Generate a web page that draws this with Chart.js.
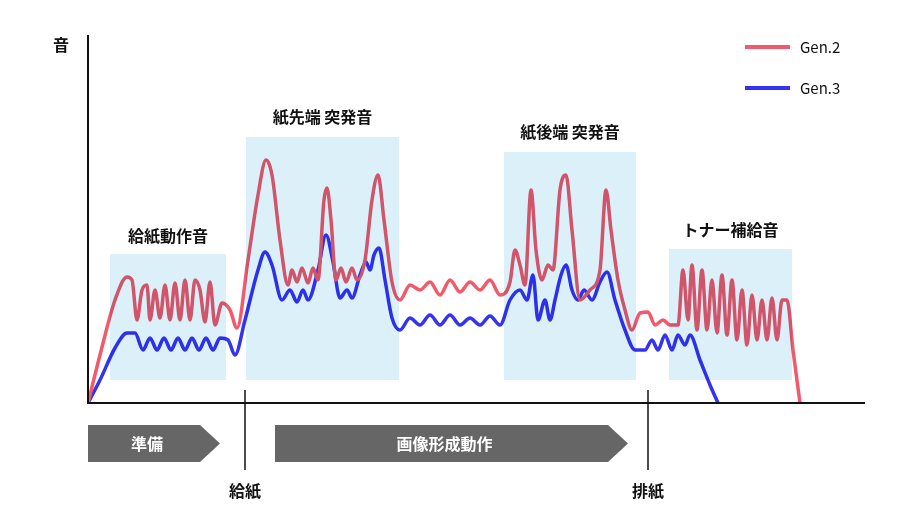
<!DOCTYPE html>
<html><head><meta charset="utf-8">
<script src="https://cdn.jsdelivr.net/npm/chart.js@4"></script>
<style>html,body{margin:0;padding:0;background:#fff}#w{width:920px;height:520px}</style>
</head><body><div id="w"><canvas id="c"></canvas></div>
<script>
const seriesNames=['Gen.2','Gen.3'];
const gen2X=[0,12,27,39,44,49,54,59,62,67,72,77,82,87,92,97,102,107,112,117,122,127,134,142,149,160,170,178,184,192,200,204,209,214,220,225,230,236,239,243,248,253,258,264,269,277,284,290,296,304,312,322,332,342,352,362,372,382,392,402,412,422,427,432,437,443,448,454,460,465,472,478,484,492,502,512,518,523,530,537,544,552,560,567,575,582,590,595,600,604,609,614,619,624,629,634,639,644,649,654,659,664,669,674,679,684,689,694,699,705,712];
const gen2Y=[0,48,103,126,123,83,113,118,83,113,85,118,83,120,83,123,83,123,113,81,121,78,100,93,75,143,208,243,228,163,118,133,121,135,120,135,123,203,215,183,123,135,121,135,123,143,203,228,183,121,103,118,113,121,108,123,111,121,113,123,108,121,153,138,118,213,153,123,138,133,213,228,173,103,113,133,213,173,123,93,73,90,91,78,83,78,78,133,83,138,73,133,73,123,70,128,68,123,63,113,58,108,63,103,63,105,63,103,103,53,0];
const gen3X=[0,12,27,39,47,55,62,69,76,83,90,97,104,111,118,125,132,140,147,157,170,177,184,194,202,209,215,220,230,238,245,252,259,264,272,278,282,286,291,297,304,312,322,332,342,352,362,372,382,392,402,412,422,432,439,445,450,457,462,467,473,478,484,490,496,504,512,519,527,537,547,557,564,570,577,584,590,597,602,612,622,630];
const gen3Y=[0,23,55,70,70,53,65,53,65,53,65,53,65,53,65,53,65,63,48,83,133,151,138,103,113,101,113,103,133,168,141,105,113,105,128,141,133,148,155,123,85,73,85,78,88,78,88,78,85,78,87,78,103,113,103,128,83,103,83,103,128,138,113,103,113,103,121,131,103,73,53,53,63,53,68,53,68,58,68,43,18,0];
const boxes=[[22,138,149,23],[158,311,266,23],[416,548,251,23],[581,704,154,23]];
const boxLabels=['給紙動作音','紙先端 突発音','紙後端 突発音','トナー補給音'];
const boxLabelY=[167,286,271,173];
const arrowRanges=[[0,132],[187,540]];
const arrowLabels=['準備','画像形成動作'];
const markX=[157,560];
const markLabels=['給紙','排紙'];
const yAxisLabel='音';
const X0=88;
const pts=(xs,ys)=>xs.map((x,i)=>({x:x+X0,y:ys[i]}));
const FONT='"Noto Sans CJK JP", sans-serif';
const deco={id:'deco',
 afterDatasetsDraw(ch){
  const c=ch.ctx,xs=ch.scales.x,ys=ch.scales.y,a=ch.chartArea;
  c.save();
  c.globalCompositeOperation='multiply';
  c.fillStyle='#dcf0f9';
  boxes.forEach(b=>{const x1=xs.getPixelForValue(b[0]+X0),x2=xs.getPixelForValue(b[1]+X0),y1=ys.getPixelForValue(b[2]),y2=ys.getPixelForValue(b[3]);c.fillRect(x1,y1,x2-x1,y2-y1);});
  c.globalCompositeOperation='source-over';
  c.fillStyle='#111';c.font='bold 16px '+FONT;c.textAlign='center';c.textBaseline='middle';
  boxes.forEach((b,i)=>c.fillText(boxLabels[i],xs.getPixelForValue((b[0]+b[1])/2+X0),ys.getPixelForValue(boxLabelY[i])));
  // axes
  c.strokeStyle='#111';c.lineWidth=2;c.beginPath();
  c.moveTo(a.left,a.top);c.lineTo(a.left,a.bottom);c.lineTo(a.right,a.bottom);c.stroke();
  c.fillText(yAxisLabel,a.left-27,a.top+10);
  // arrows
  arrowRanges.forEach((r,i)=>{const x1=xs.getPixelForValue(r[0]+X0),x2=xs.getPixelForValue(r[1]+X0),t=a.bottom+22,bt=a.bottom+59,m=(t+bt)/2;
   c.fillStyle='#666';c.beginPath();c.moveTo(x1,t);c.lineTo(x2-20,t);c.lineTo(x2,m);c.lineTo(x2-20,bt);c.lineTo(x1,bt);c.closePath();c.fill();
   c.fillStyle='#fff';c.fillText(arrowLabels[i],(x1+x2-14)/2,m);});
  markX.forEach((v,i)=>{const x=xs.getPixelForValue(v+X0);c.strokeStyle='#111';c.lineWidth=1.5;c.beginPath();c.moveTo(x,a.bottom-13);c.lineTo(x,a.bottom+67);c.stroke();
   c.fillStyle='#111';c.fillText(markLabels[i],x,a.bottom+88);});
  // legend
  const cols=['#f25a6c','#3333f0'];
  seriesNames.forEach((n,i)=>{const y=47+i*41;c.strokeStyle=cols[i];c.lineWidth=4;c.beginPath();c.moveTo(745,y);c.lineTo(790,y);c.stroke();
   c.fillStyle='#111';c.font='15px '+FONT;c.textAlign='left';c.fillText(n,800,y);c.textAlign='center';c.font='bold 16px '+FONT;});
  c.restore();
 }};
new Chart(document.getElementById('c'),{type:'line',
 data:{datasets:[
  {label:seriesNames[0],data:pts(gen2X,gen2Y),borderColor:'#f25a6c',borderWidth:3.5,pointRadius:0,tension:0.4,cubicInterpolationMode:'monotone'},
  {label:seriesNames[1],data:pts(gen3X,gen3Y),borderColor:'#3333f0',borderWidth:3.5,pointRadius:0,tension:0.4,cubicInterpolationMode:'monotone'}]},
 options:{responsive:true,maintainAspectRatio:false,animation:false,
  layout:{padding:{left:88,right:55,top:35,bottom:117}},
  plugins:{legend:{display:false},tooltip:{enabled:false}},
  scales:{x:{type:'linear',min:88,max:865,display:false},y:{min:0,max:368,display:false}}},
 plugins:[deco]});
</script></body></html>
